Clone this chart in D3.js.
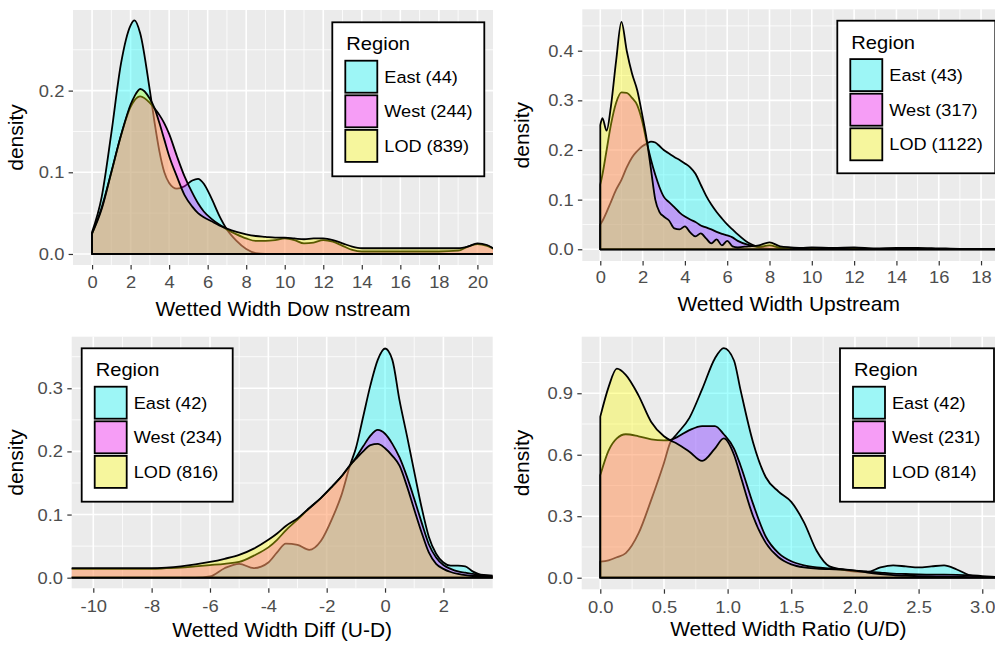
<!DOCTYPE html>
<html><head><meta charset="utf-8">
<script src="https://cdn.jsdelivr.net/npm/d3@7"></script>
<style>body{margin:0;background:#fff} svg{display:block}</style>
</head><body><svg id="chart" width="995" height="646"></svg>
<script>
// ---------- data ----------
const regions = ["East", "West", "LOD"];
const regionColors = ["#00FFFF", "#FF00FF", "#FFFF00"];

// Panel 1: Wetted Width Downstream
const p1Title = "Wetted Width Dow nstream";
const p1Counts = [44, 244, 839];
const p1X = [0,0.5,1,1.5,2,2.2,2.5,3,3.25,3.5,3.75,4,4.4,4.8,5.2,5.5,5.8,6.2,6.6,7,7.5,8,8.5,9,9.5,10,10.5,11,11.5,12,12.5,13,13.5,14,15,16,17,18,19,19.5,20,20.5,21,21.5];
const p1East = [0.027,0.07,0.148,0.233,0.28,0.286,0.27,0.2,0.16,0.125,0.1,0.087,0.08,0.083,0.09,0.092,0.086,0.068,0.047,0.03,0.016,0.006,0.001,0,0,0,0,0,0,0,0,0,0,0,0,0,0,0,0,0,0,0,0,0];
const p1West = [0.025,0.057,0.1,0.145,0.18,0.188,0.193,0.185,0.178,0.17,0.16,0.147,0.12,0.095,0.075,0.062,0.052,0.043,0.036,0.03,0.024,0.019,0.016,0.016,0.017,0.019,0.017,0.013,0.014,0.017,0.015,0.01,0.005,0.003,0.003,0.003,0.003,0.003,0.004,0.009,0.012,0.01,0.005,0.003];
const p1LOD = [0.025,0.055,0.1,0.145,0.183,0.193,0.202,0.19,0.178,0.16,0.14,0.12,0.095,0.072,0.058,0.05,0.045,0.04,0.035,0.031,0.027,0.024,0.022,0.021,0.02,0.02,0.019,0.018,0.019,0.019,0.017,0.013,0.009,0.007,0.007,0.007,0.007,0.007,0.007,0.009,0.013,0.011,0.005,0.003];
const p1XTicks = [0,2,4,6,8,10,12,14,16,18,20];
const p1YTicks = [0, 0.1, 0.2];
const p1XLim = [-0.99, 20.81];
const p1YLim = [-0.0135, 0.2987];

// Panel 2: Wetted Width Upstream
const p2Title = "Wetted Width Upstream";
const p2Counts = [43, 317, 1122];
const p2X = [0,0.1,0.3,0.5,0.75,1,1.25,1.5,1.75,2,2.2,2.4,2.6,2.8,3,3.25,3.5,3.75,4,4.25,4.5,4.75,5,5.25,5.5,5.75,6,6.25,6.5,7,7.5,8,8.5,9,9.5,10,11,12,13,14,15,16,17,18,19];
const p2East = [0.05,0.057,0.075,0.095,0.12,0.14,0.165,0.185,0.198,0.208,0.213,0.217,0.215,0.208,0.2,0.193,0.186,0.18,0.173,0.165,0.152,0.13,0.108,0.09,0.075,0.062,0.05,0.04,0.03,0.013,0.004,0.001,0,0,0,0,0,0,0,0,0,0,0,0,0];
const p2West = [0.13,0.15,0.2,0.25,0.295,0.316,0.315,0.305,0.29,0.255,0.215,0.18,0.15,0.125,0.106,0.095,0.085,0.074,0.066,0.06,0.055,0.048,0.044,0.04,0.035,0.031,0.028,0.024,0.017,0.009,0.005,0.008,0.003,0.002,0.002,0.002,0.002,0.002,0.001,0.001,0.001,0.001,0.001,0.001,0.001];
const p2LOD = [0.25,0.264,0.239,0.287,0.38,0.458,0.4,0.354,0.32,0.267,0.22,0.16,0.1,0.075,0.066,0.058,0.042,0.04,0.046,0.034,0.026,0.032,0.022,0.012,0.02,0.008,0.017,0.006,0.004,0.006,0.008,0.014,0.006,0.004,0.003,0.004,0.003,0.004,0.002,0.003,0.003,0.002,0.001,0.001,0.001];
const p2XTicks = [0,2,4,6,8,10,12,14,16,18];
const p2YTicks = [0, 0.1, 0.2, 0.3, 0.4];
const p2XLim = [-0.85, 18.66];
const p2YLim = [-0.0236, 0.4834];

// Panel 3: Wetted Width Diff (U-D)
const p3Title = "Wetted Width Diff (U-D)";
const p3Counts = [42, 234, 816];
const p3X = [-11,-10,-9,-8,-7.5,-7,-6.5,-6,-5.5,-5,-4.5,-4,-3.7,-3.4,-3,-2.6,-2.2,-1.8,-1.5,-1.2,-1,-0.75,-0.5,-0.25,0,0.25,0.5,0.75,1,1.25,1.5,1.75,2,2.25,2.5,2.75,3,3.25,3.5,4];
const p3East = [0,0,0,0,0,0,0,0.002,0.015,0.022,0.015,0.024,0.04,0.054,0.052,0.044,0.058,0.095,0.13,0.178,0.205,0.255,0.305,0.345,0.363,0.345,0.28,0.225,0.168,0.112,0.065,0.038,0.024,0.019,0.019,0.018,0.01,0.005,0.002,0];
const p3West = [0.014,0.014,0.014,0.014,0.015,0.016,0.018,0.02,0.022,0.025,0.035,0.048,0.06,0.075,0.092,0.11,0.126,0.145,0.16,0.178,0.19,0.208,0.225,0.234,0.228,0.212,0.19,0.16,0.125,0.088,0.053,0.032,0.02,0.014,0.01,0.008,0.006,0.005,0.004,0.002];
const p3LOD = [0.015,0.015,0.015,0.015,0.016,0.018,0.021,0.025,0.03,0.036,0.046,0.06,0.07,0.082,0.094,0.11,0.126,0.145,0.16,0.178,0.188,0.2,0.21,0.212,0.205,0.193,0.177,0.145,0.108,0.072,0.04,0.022,0.014,0.009,0.006,0.004,0.003,0.003,0.002,0.001];
const p3XTicks = [-10,-8,-6,-4,-2,0,2];
const p3YTicks = [0, 0.1, 0.2, 0.3];
const p3XLim = [-10.74, 3.69];
const p3YLim = [-0.0168, 0.3817];

// Panel 4: Wetted Width Ratio (U/D)
const p4Title = "Wetted Width Ratio (U/D)";
const p4Counts = [42, 231, 814];
const p4X = [0,0.065,0.13,0.2,0.3,0.4,0.5,0.55,0.6,0.7,0.8,0.9,0.97,1.05,1.1,1.2,1.3,1.4,1.5,1.6,1.7,1.8,1.9,2.0,2.1,2.2,2.3,2.4,2.5,2.6,2.7,2.8,2.9,3.0,3.1,3.2];
const p4East = [0.078,0.085,0.1,0.12,0.216,0.38,0.56,0.66,0.7,0.78,0.92,1.07,1.12,1.06,0.92,0.66,0.49,0.42,0.37,0.27,0.13,0.055,0.04,0.03,0.028,0.05,0.06,0.055,0.05,0.055,0.06,0.04,0.012,0.003,0.001,0];
const p4West = [0.5,0.62,0.68,0.7,0.69,0.675,0.67,0.672,0.685,0.72,0.74,0.74,0.7,0.63,0.55,0.36,0.2,0.12,0.08,0.06,0.05,0.045,0.04,0.035,0.03,0.025,0.02,0.018,0.016,0.015,0.015,0.014,0.012,0.008,0.004,0.002];
const p4LOD = [0.786,0.93,1.02,0.99,0.89,0.76,0.69,0.67,0.655,0.615,0.57,0.63,0.68,0.6,0.5,0.3,0.17,0.1,0.065,0.05,0.045,0.042,0.04,0.035,0.025,0.018,0.013,0.01,0.008,0.006,0.005,0.004,0.003,0.002,0.001,0.001];
const p4XTicks = [0,0.5,1,1.5,2,2.5,3];
const p4YTicks = [0, 0.3, 0.6, 0.9];
const p4XLim = [-0.146, 3.10];
const p4YLim = [-0.0566, 1.176];

// ---------- layout ----------
const FONT = "'Liberation Sans', Arial, Helvetica, sans-serif";
const fmtInt = d => String(d);
const fmt1 = d => d.toFixed(1);

const panels = [
  {x:p1X, series:[p1East,p1West,p1LOD], counts:p1Counts, title:p1Title,
   xTicks:p1XTicks, yTicks:p1YTicks, xLim:p1XLim, yLim:p1YLim, xFmt:fmtInt,
   box:{l:73,r:493,t:10,b:265}, pad:7, titleY:316, ytitleX:23,
   legend:{l:332.3,t:22.3,w:152,h:154}},
  {x:p2X, series:[p2East,p2West,p2LOD], counts:p2Counts, title:p2Title,
   xTicks:p2XTicks, yTicks:p2YTicks, xLim:p2XLim, yLim:p2YLim, xFmt:fmtInt,
   box:{l:582.3,r:995,t:9.3,b:261}, pad:5.5, titleY:311, ytitleX:529,
   legend:{l:837.3,t:20.7,w:158,h:152.6}},
  {x:p3X, series:[p3East,p3West,p3LOD], counts:p3Counts, title:p3Title,
   xTicks:p3XTicks, yTicks:p3YTicks, xLim:p3XLim, yLim:p3YLim, xFmt:fmtInt,
   box:{l:71.7,r:492.7,t:336.7,b:588.3}, pad:7, titleY:637, ytitleX:23,
   legend:{l:81.7,t:348.3,w:151,h:153.4}},
  {x:p4X, series:[p4East,p4West,p4LOD], counts:p4Counts, title:p4Title,
   xTicks:p4XTicks, yTicks:p4YTicks, xLim:p4XLim, yLim:p4YLim, xFmt:fmt1,
   box:{l:581.7,r:995,t:336.7,b:589.3}, pad:7, titleY:636, ytitleX:529,
   legend:{l:840,t:348.3,w:154,h:153.4}}
];

const svg = d3.select("#chart");
const defs = svg.append("defs");

function minorBreaks(major, lim) {
  const out = [];
  const step = major[1] - major[0];
  for (let v = major[0] - step; v <= major[major.length-1] + step + 1e-9; v += step) {
    const m = v + step / 2;
    if (m > lim[0] && m < lim[1]) out.push(m);
  }
  return out;
}

panels.forEach((p, i) => {
  const g = svg.append("g");
  const B = p.box;
  const x = d3.scaleLinear().domain(p.xLim).range([B.l, B.r]);
  const y = d3.scaleLinear().domain(p.yLim).range([B.b, B.t]);

  g.append("rect").attr("x", B.l).attr("y", B.t).attr("width", B.r - B.l).attr("height", B.b - B.t)
    .attr("fill", "#EBEBEB");

  const xMinor = minorBreaks(p.xTicks, p.xLim);
  const yMinor = minorBreaks(p.yTicks, p.yLim);
  const grid = g.append("g").attr("stroke", "#FFFFFF");
  grid.selectAll(".xmin").data(xMinor).join("line").attr("class","xmin")
    .attr("x1", d => x(d)).attr("x2", d => x(d)).attr("y1", B.t).attr("y2", B.b).attr("stroke-width", 0.8);
  grid.selectAll(".ymin").data(yMinor).join("line").attr("class","ymin")
    .attr("y1", d => y(d)).attr("y2", d => y(d)).attr("x1", B.l).attr("x2", B.r).attr("stroke-width", 0.8);
  grid.selectAll(".xmaj").data(p.xTicks).join("line").attr("class","xmaj")
    .attr("x1", d => x(d)).attr("x2", d => x(d)).attr("y1", B.t).attr("y2", B.b).attr("stroke-width", 1.6);
  grid.selectAll(".ymaj").data(p.yTicks).join("line").attr("class","ymaj")
    .attr("y1", d => y(d)).attr("y2", d => y(d)).attr("x1", B.l).attr("x2", B.r).attr("stroke-width", 1.6);

  const clipId = "clip" + i;
  defs.append("clipPath").attr("id", clipId).append("rect")
    .attr("x", B.l).attr("y", B.t).attr("width", B.r - B.l).attr("height", B.b - B.t);

  const area = d3.area().x(d => x(d[0])).y0(y(0)).y1(d => y(d[1])).curve(d3.curveMonotoneX);
  const ag = g.append("g").attr("clip-path", `url(#${clipId})`);
  p.series.forEach((s, k) => {
    ag.append("path").datum(p.x.map((xv, j) => [xv, s[j]]))
      .attr("d", area)
      .attr("fill", regionColors[k]).attr("fill-opacity", 0.35)
      .attr("stroke", "#000").attr("stroke-width", 1.8).attr("stroke-linejoin", "round");
  });

  // axes
  const xa = g.append("g").attr("transform", `translate(0,${B.b})`)
    .call(d3.axisBottom(x).tickValues(p.xTicks).tickFormat(p.xFmt).tickSize(4.4).tickPadding(p.pad));
  const ya = g.append("g").attr("transform", `translate(${B.l},0)`)
    .call(d3.axisLeft(y).tickValues(p.yTicks).tickFormat(fmt1).tickSize(4.4).tickPadding(3.6));
  [xa, ya].forEach(a => {
    a.select(".domain").remove();
    a.selectAll("line").attr("stroke", "#333333").attr("stroke-width", 1.2);
    a.selectAll("text").attr("fill", "#4D4D4D")
      .style("font-size", "17px").style("font-family", FONT)
      .attr("transform", "scale(1.08,1)");
  });

  // axis titles
  g.append("text").attr("transform", `translate(${(B.l + B.r) / 2},${p.titleY}) scale(1.05,1)`)
    .attr("text-anchor", "middle").style("font-family", FONT).style("font-size", "20px")
    .attr("fill", "#000").text(p.title);
  g.append("text").attr("transform", `translate(${p.ytitleX},${(B.t + B.b) / 2}) rotate(-90) scale(1.05,1)`)
    .attr("text-anchor", "middle").style("font-family", FONT).style("font-size", "20px")
    .attr("fill", "#000").text("density");

  // legend
  const L = p.legend;
  const lg = g.append("g").attr("transform", `translate(${L.l},${L.t})`);
  lg.append("rect").attr("x", 0).attr("y", 0).attr("width", L.w).attr("height", L.h)
    .attr("fill", "#FFFFFF").attr("stroke", "#000").attr("stroke-width", 1.8);
  lg.append("text").attr("transform", "translate(14,28) scale(1.15,1)")
    .style("font-family", FONT).style("font-size", "17.5px").attr("fill", "#000").text("Region");
  regions.forEach((r, k) => {
    const ky = 38.4 + k * 34.6;
    lg.append("rect").attr("x", 13).attr("y", ky).attr("width", 32).attr("height", 32).attr("fill", "#F2F2F2");
    lg.append("rect").attr("x", 13).attr("y", ky).attr("width", 32).attr("height", 32)
      .attr("fill", regionColors[k]).attr("fill-opacity", 0.35)
      .attr("stroke", "#000").attr("stroke-width", 1.8);
    lg.append("text").attr("transform", `translate(52,${ky + 22}) scale(1.1,1)`)
      .style("font-family", FONT).style("font-size", "16.5px").attr("fill", "#000")
      .text(`${r} (${p.counts[k]})`);
  });
});
</script>
</body></html>
